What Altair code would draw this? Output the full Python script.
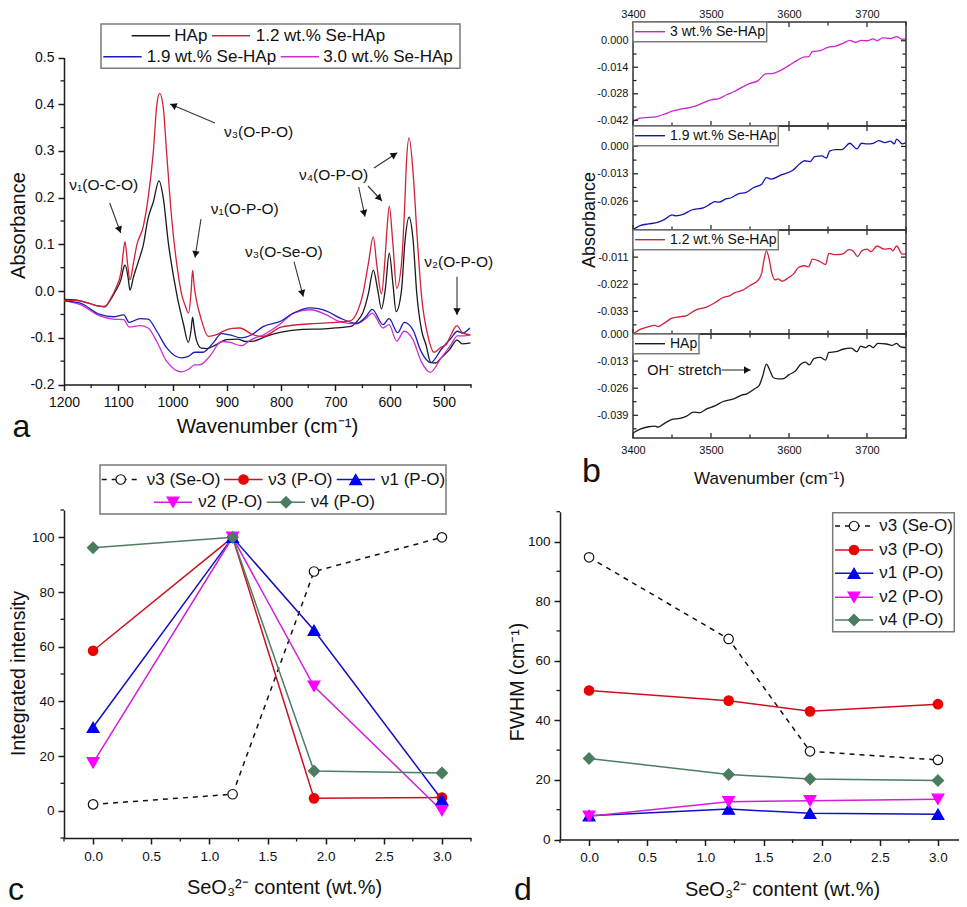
import math
import altair as alt
import pandas as pd

FONT = "Liberation Sans"

# ---------- panel a ----------
A_HAP_X = [1200,1180,1160,1140,1125,1115,1105,1095,1090,1087.6,1082,1078.4,1072,1063,1054,1045,1035.4,1025,1017,1008,992,980,971,966,963,960,956,947,937,920,900,880,865,850,830,800,760,720,700,670,661,648.5,639,630,622,615,608,600.6,594,588,578,572,564,556.7,550,541,533,524,515,505,490,475.6,466,451]
A_HAP_Y = [-0.018,-0.019,-0.024,-0.031,-0.033,-0.02,0.0,0.025,0.05,0.056,0.03,0.002,0.03,0.063,0.098,0.156,0.191,0.236,0.199,0.106,-0.008,-0.07,-0.11,-0.085,-0.056,-0.08,-0.105,-0.122,-0.123,-0.115,-0.104,-0.103,-0.108,-0.107,-0.098,-0.088,-0.082,-0.081,-0.079,-0.075,-0.066,-0.044,-0.005,0.045,0.003,-0.038,0.003,0.081,0.017,-0.044,0.002,0.102,0.158,0.109,-0.004,-0.084,-0.115,-0.153,-0.154,-0.143,-0.126,-0.105,-0.113,-0.111]
A_12_X = [1200,1180,1160,1140,1125,1115,1105,1095,1091,1087.6,1083,1078.4,1072,1066,1054,1045,1035.4,1029,1023.7,1017,1011,1001.6,992,983,977,970.5,966,963,960,956,947,934,920,905,890,876,851,833,800,746,700,673,661,649,639,630,624,615,609,605,600.6,594,587,578,572,569,564,556.7,550,541,529,518,505,496,487,476,466,451]
A_12_Y = [-0.02,-0.02,-0.024,-0.031,-0.034,-0.018,0.005,0.04,0.08,0.106,0.06,0.024,0.06,0.098,0.138,0.199,0.298,0.398,0.423,0.392,0.298,0.156,0.056,-0.008,-0.03,-0.047,-0.005,0.044,0.01,-0.019,-0.061,-0.097,-0.094,-0.085,-0.08,-0.079,-0.094,-0.097,-0.077,-0.07,-0.067,-0.064,-0.048,-0.005,0.06,0.116,0.06,-0.006,0.06,0.13,0.182,0.102,0.006,0.06,0.188,0.274,0.328,0.253,0.13,-0.012,-0.098,-0.131,-0.12,-0.115,-0.094,-0.074,-0.089,-0.094]
A_19_X = [1200,1170,1134,1109,1090,1080,1060,1045,1029,1011,983,971,959,944,925,910,894,873,855,833,800,777,746,716,691,661,643,632,612,601,585,573,557,542,524,505,487,475,466,452]
A_19_Y = [-0.021,-0.026,-0.05,-0.055,-0.051,-0.067,-0.059,-0.06,-0.086,-0.121,-0.143,-0.14,-0.131,-0.131,-0.111,-0.091,-0.094,-0.1,-0.094,-0.076,-0.064,-0.047,-0.036,-0.043,-0.058,-0.069,-0.054,-0.039,-0.072,-0.059,-0.089,-0.067,-0.083,-0.129,-0.153,-0.125,-0.101,-0.086,-0.09,-0.079]
A_30_X = [1200,1170,1134,1109,1090,1080,1060,1045,1029,1011,983,971,959,950,931,910,894,873,855,833,800,777,746,716,691,661,643,632,612,601,587,573,557,542,525,505,487,475,463,452]
A_30_Y = [-0.021,-0.029,-0.053,-0.06,-0.061,-0.077,-0.074,-0.079,-0.108,-0.15,-0.173,-0.168,-0.158,-0.158,-0.139,-0.108,-0.11,-0.117,-0.104,-0.094,-0.069,-0.047,-0.04,-0.051,-0.066,-0.07,-0.058,-0.047,-0.079,-0.072,-0.107,-0.086,-0.104,-0.15,-0.174,-0.143,-0.115,-0.096,-0.096,-0.094]

# ---------- panel b ----------
B_30_X = [3400,3410,3420,3430,3440,3450,3460,3470,3480,3490,3500,3510,3520,3530,3540,3550,3560,3570,3580,3590,3600,3610,3620,3625,3630,3640,3650,3660,3670,3678,3685,3693,3700,3708,3713,3720,3730,3738,3745,3750]
B_30_Y = [-0.0425,-0.0408,-0.0405,-0.04,-0.0388,-0.0372,-0.0362,-0.0355,-0.0345,-0.0328,-0.0312,-0.0305,-0.0285,-0.0268,-0.0245,-0.0225,-0.0212,-0.0175,-0.0172,-0.0155,-0.013,-0.0105,-0.0085,-0.0085,-0.0058,-0.0052,-0.0035,-0.0028,-0.0012,0.0002,-0.0008,0.0002,0.0,0.001,0.0,0.0015,0.0012,0.0022,0.0008,0.001]
B_19_X = [3400,3410,3420,3430,3440,3450,3455,3465,3475,3490,3500,3505,3510,3520,3525,3535,3545,3555,3565,3571,3577,3590,3605,3613,3620,3627,3633,3642,3648,3652,3660,3668,3678,3687,3693,3700,3708,3715,3723,3730,3735,3738,3745,3750]
B_19_Y = [-0.0395,-0.0375,-0.0368,-0.0362,-0.0348,-0.0325,-0.033,-0.0322,-0.0302,-0.0292,-0.0272,-0.0262,-0.0265,-0.0248,-0.0245,-0.0225,-0.0218,-0.0195,-0.018,-0.0148,-0.0155,-0.0135,-0.0113,-0.0085,-0.0068,-0.0072,-0.0048,-0.0045,-0.0055,-0.0022,-0.0015,-0.0015,0.0015,-0.0012,0.0015,0.0012,0.0015,0.0028,0.0018,0.0025,0.0012,0.0035,0.0012,0.0018]
B_12_X = [3400,3410,3420,3428,3432,3440,3450,3460,3468,3480,3495,3505,3515,3525,3530,3540,3550,3560,3565,3568,3571,3574,3578,3582,3586,3591,3600,3606,3612,3620,3625,3630,3638,3647,3651,3660,3668,3677,3682,3688,3693,3700,3705,3713,3722,3730,3733,3738,3745,3750]
B_12_Y = [-0.0422,-0.0402,-0.0392,-0.0387,-0.0392,-0.0378,-0.0358,-0.0352,-0.0348,-0.0325,-0.0312,-0.0295,-0.0275,-0.0265,-0.0255,-0.0245,-0.0225,-0.0205,-0.0175,-0.012,-0.0085,-0.011,-0.0175,-0.0202,-0.0198,-0.0208,-0.0192,-0.0178,-0.0152,-0.0145,-0.015,-0.0118,-0.0125,-0.014,-0.0095,-0.01,-0.0098,-0.008,-0.0085,-0.0108,-0.0085,-0.0078,-0.0088,-0.0065,-0.0078,-0.0075,-0.0085,-0.0065,-0.0098,-0.0098]
B_0_X = [3400,3410,3420,3428,3432,3440,3450,3460,3468,3478,3485,3495,3505,3515,3530,3540,3545,3555,3562,3566,3571,3575,3580,3586,3592,3600,3608,3615,3621,3626,3632,3640,3647,3651,3660,3670,3680,3687,3692,3698,3703,3708,3714,3725,3732,3738,3743,3750]
B_0_Y = [-0.0475,-0.0455,-0.0445,-0.0442,-0.0447,-0.043,-0.041,-0.0405,-0.0395,-0.0375,-0.0378,-0.0358,-0.0345,-0.0325,-0.031,-0.0292,-0.0288,-0.0265,-0.0245,-0.0205,-0.0145,-0.017,-0.021,-0.0215,-0.0215,-0.0195,-0.0178,-0.0145,-0.0135,-0.0148,-0.0118,-0.0112,-0.0125,-0.0088,-0.0085,-0.0072,-0.0068,-0.0085,-0.0058,-0.0065,-0.0055,-0.0065,-0.0045,-0.0048,-0.0055,-0.0045,-0.0062,-0.0065]

# ---------- panels c, d ----------
CONTENT = [0.0, 1.2, 1.9, 3.0]
C_SE = [2.3, 6.0, 87.5, 100.0]
C_V3 = [58.5, 100.0, 4.5, 4.8]
C_V1 = [30.5, 100.0, 66.0, 4.0]
C_V2 = [17.5, 100.0, 45.5, 0.0]
C_V4 = [96.2, 100.0, 14.5, 13.8]
D_SE = [94.7, 67.3, 29.6, 26.7]
D_V3 = [50.0, 46.6, 43.0, 45.4]
D_V1 = [8.0, 10.2, 8.8, 8.5]
D_V2 = [7.8, 12.7, 13.0, 13.5]
D_V4 = [27.2, 21.8, 20.3, 19.8]

SER_NAMES = ["ν3 (Se-O)", "ν3 (P-O)", "ν1 (P-O)", "ν2 (P-O)", "ν4 (P-O)"]
SPEC_NAMES_A = ["HAp", "1.2 wt.% Se-HAp", "1.9 wt.% Se-HAp", "3.0 wt.% Se-HAp"]
SPEC_NAMES_B = ["3 wt.% Se-HAp", "1.9 wt.% Se-HAp", "1.2 wt.% Se-HAp", "HAp"]

BLACK, RED, BLUE, MAG = "#1a1a1a", "#d2203a", "#1c1cb8", "#cc2fd0"
STYLES = [
    dict(line="#111111", dash=[5, 5], fill="#ffffff", stroke="#111111", shape="circle", size=90),
    dict(line="#cc1020", dash=None, fill="#ee0000", stroke="#ee0000", shape="circle", size=90),
    dict(line="#1010c0", dash=None, fill="#0000ee", stroke="#0000ee", shape="triangle-up", size=140),
    dict(line="#d020d8", dash=None, fill="#ff00ff", stroke="#ff00ff", shape="triangle-down", size=140),
    dict(line="#4c7c62", dash=None, fill="#4a7c5f", stroke="#4a7c5f", shape="diamond", size=125),
]

ONE = alt.Data(values=[{"k": 1}])


def text(s, x, y, size, L, T, align="left", angle=None, color="#111111"):
    kw = {"angle": angle} if angle is not None else {}
    return alt.Chart(ONE).mark_text(align=align, baseline="middle", font=FONT, fontSize=size,
                                    color=color, text=s, **kw).encode(
        x=alt.value(x - L), y=alt.value(y - T))


def rule(x1, y1, x2, y2, L, T, color="#111111", width=1.3, dash=None):
    kw = {"strokeDash": dash} if dash else {}
    return alt.Chart(ONE).mark_rule(color=color, strokeWidth=width, **kw).encode(
        x=alt.value(x1 - L), y=alt.value(y1 - T), x2=alt.value(x2 - L), y2=alt.value(y2 - T))


def box(x1, y1, x2, y2, L, T):
    return alt.Chart(ONE).mark_rect(fill="#ffffff", stroke="#7a7a7a", strokeWidth=1.5).encode(
        x=alt.value(x1 - L), y=alt.value(y1 - T), x2=alt.value(x2 - L), y2=alt.value(y2 - T))


def arrow(x1, y1, x2, y2, L, T, color="#333333"):
    ang = math.degrees(math.atan2(x2 - x1, -(y2 - y1))) % 360
    d = math.hypot(x2 - x1, y2 - y1)
    hx = x2 - (x2 - x1) / d * 3.5
    hy = y2 - (y2 - y1) / d * 3.5
    head = alt.Chart(ONE).mark_point(shape="triangle-up", filled=True, opacity=1, size=55, angle=ang,
                                     color="#111111").encode(x=alt.value(hx - L), y=alt.value(hy - T))
    return [rule(x1, y1, x2, y2, L, T, color=color, width=1.1), head]


def marker(st, x, y, L, T):
    return alt.Chart(ONE).mark_point(shape=st["shape"], size=st["size"], filled=True, opacity=1,
                                     fill=st["fill"], stroke=st["stroke"], strokeWidth=1.2).encode(
        x=alt.value(x - L), y=alt.value(y - T))


def hy_labels(fmt):
    return (f"datum.value < 0 ? '-' + format(-datum.value, '{fmt}') : format(datum.value, '{fmt}')")


AX = dict(labelFont=FONT, titleFont=FONT, labelColor="#111111", titleColor="#111111",
          domainColor="#1a1a1a", tickColor="#1a1a1a", domainWidth=1.5, tickWidth=1.5, tickSize=6,
          grid=False, titleFontWeight="normal", minExtent=0)
AXB = {k: v for k, v in AX.items() if k != "tickSize"}


def minor_x(vals, xs, H, axis, length=3.5):
    df = pd.DataFrame({"v": vals})
    return alt.Chart(df).mark_rule(color="#1a1a1a", strokeWidth=1.3).encode(
        x=alt.X("v:Q", scale=xs, axis=axis), y=alt.value(H), y2=alt.value(H + length))


def minor_y(vals, ys, axis, length=3.5):
    df = pd.DataFrame({"v": vals})
    return alt.Chart(df).mark_rule(color="#1a1a1a", strokeWidth=1.3).encode(
        y=alt.Y("v:Q", scale=ys, axis=axis), x=alt.value(0), x2=alt.value(-length))


# ================= PANEL A =================
LA, TA, HA, WA = 64, 22, 362.5, 407
xa = alt.Scale(domain=[1200, 450], nice=False, zero=False)
ya = alt.Scale(domain=[-0.2, 0.5], range=[HA, 35.5], nice=False, zero=False)
xax_a = alt.Axis(values=[1200, 1100, 1000, 900, 800, 700, 600, 500], format="d", title="Wavenumber (cm⁻¹)",
                 labelFontSize=14, titleFontSize=20.5, labelPadding=5, titleX=203, titleY=32, labelFlush=False, **AX)
yax_a = alt.Axis(values=[-0.2, -0.1, 0, 0.1, 0.2, 0.3, 0.4, 0.5], labelExpr=hy_labels(".1f"), title="Absorbance",
                 labelFontSize=14, titleFontSize=20, labelPadding=4, titleX=-36, titleY=203, **AX)


def a_line(xv, yv, color):
    df = pd.DataFrame({"x": xv, "y": yv})
    return alt.Chart(df).mark_line(color=color, strokeWidth=1.3, interpolate="monotone").encode(
        x=alt.X("x:Q", scale=xa, axis=xax_a),
        y=alt.Y("y:Q", scale=ya, axis=yax_a))


a_layers = [
    a_line(A_HAP_X, A_HAP_Y, BLACK),
    a_line(A_30_X, A_30_Y, MAG),
    a_line(A_19_X, A_19_Y, BLUE),
    a_line(A_12_X, A_12_Y, RED),
    minor_x([1150, 1050, 950, 850, 750, 650, 550, 450], xa, HA, xax_a),
    minor_y([-0.15, -0.05, 0.05, 0.15, 0.25, 0.35, 0.45], ya, yax_a),
    box(101, 24, 460, 68.3, LA, TA),
]
for nm, col, x1, x2, xt, yr in [
    (SPEC_NAMES_A[0], BLACK, 131.7, 170, 174.3, 35.7),
    (SPEC_NAMES_A[1], RED, 212, 250, 255.7, 35.7),
    (SPEC_NAMES_A[2], BLUE, 103.3, 141.7, 146.7, 56.7),
    (SPEC_NAMES_A[3], MAG, 280.7, 319, 323.3, 56.7),
]:
    a_layers += [rule(x1, yr, x2, yr, LA, TA, color=col, width=1.4), text(nm, xt, yr, 17, LA, TA)]
for s, x, y in [("ν₁(O-C-O)", 69.3, 185), ("ν₃(O-P-O)", 224, 131.7), ("ν₁(O-P-O)", 210.7, 209.3),
                ("ν₄(O-P-O)", 299, 175), ("ν₃(O-Se-O)", 245, 251.7), ("ν₂(O-P-O)", 424.3, 261.7)]:
    a_layers.append(text(s, x, y, 15.5, LA, TA))
for x1, y1, x2, y2 in [(215, 123, 170, 104), (109.7, 203, 120.7, 233), (201, 219, 195, 257.7),
                       (374, 168, 397.3, 152.7), (368, 186, 382, 201), (358.7, 187, 365, 216.7),
                       (294, 261.7, 303.3, 296.7), (457, 276.7, 457, 315)]:
    a_layers += arrow(x1, y1, x2, y2, LA, TA)
a_layers.append(text("a", 12.5, 427, 32, LA, TA))
panel_a = alt.layer(*a_layers).properties(width=WA, height=HA)

# ================= PANEL B =================
LB, WB, HB = 633, 273, 104
xb = alt.Scale(domain=[3400, 3750], nice=False, zero=False)
BX_MAJ = [3400, 3500, 3600, 3700]
BX_MIN = [3450, 3550, 3650, 3750]


def b_panel(T, xv, yv, color, dom, maj, minr, name, legend_right, top_axis=False, bottom_axis=False, extra=None):
    ys = alt.Scale(domain=dom, nice=False, zero=False)
    df = pd.DataFrame({"x": xv, "y": yv})
    if top_axis:
        xaxis = alt.Axis(orient="top", values=BX_MAJ, format="d", labelFontSize=11, title=None, ticks=False,
                         domain=False, labelPadding=3, labelFlush=False, **AXB)
    elif bottom_axis:
        xaxis = alt.Axis(values=BX_MAJ, format="d", labelFontSize=11, title="Wavenumber (cm⁻¹)", titleFontSize=17,
                         ticks=False, domain=False, labelPadding=6, titleX=136, titleY=32, labelFlush=False, **AXB)
    else:
        xaxis = None
    yaxis = alt.Axis(values=maj, labelExpr=hy_labels(".3f"), labelFontSize=11, title=None, ticks=False, domain=False,
                     labelPadding=5, labelFlush=False, **AXB)
    line = alt.Chart(df).mark_line(color=color, strokeWidth=1.3, interpolate="monotone").encode(
        x=alt.X("x:Q", scale=xb, axis=xaxis), y=alt.Y("y:Q", scale=ys, axis=yaxis))
    rc = dict(color="#1a1a1a", strokeWidth=1.2)
    layers = [line]
    for vals, ln in [(BX_MAJ, 5), (BX_MIN, 3.5)]:
        d = pd.DataFrame({"v": vals})
        layers.append(alt.Chart(d).mark_rule(**rc).encode(x=alt.X("v:Q", scale=xb, axis=xaxis), y=alt.value(0), y2=alt.value(ln)))
        layers.append(alt.Chart(d).mark_rule(**rc).encode(x=alt.X("v:Q", scale=xb, axis=xaxis), y=alt.value(HB), y2=alt.value(HB - ln)))
    for vals, ln in [(maj, 5), (minr, 3.5)]:
        d = pd.DataFrame({"v": vals})
        layers.append(alt.Chart(d).mark_rule(**rc).encode(y=alt.Y("v:Q", scale=ys, axis=yaxis), x=alt.value(0), x2=alt.value(ln)))
        layers.append(alt.Chart(d).mark_rule(**rc).encode(y=alt.Y("v:Q", scale=ys, axis=yaxis), x=alt.value(WB), x2=alt.value(WB - ln)))
    layers.append(alt.Chart(ONE).mark_rect(fillOpacity=0, stroke="#333333", strokeWidth=1.5).encode(
        x=alt.value(0), x2=alt.value(WB), y=alt.value(0), y2=alt.value(HB)))
    layers.append(box(LB, T, legend_right, T + 19.7, LB, T))
    layers.append(rule(LB + 2, T + 9.7, 665, T + 9.7, LB, T, color=color, width=1.4))
    layers.append(text(name, 670, T + 9.7, 14, LB, T))
    if extra:
        layers += extra
    return alt.layer(*layers).properties(width=WB, height=HB)


T1, T2, T3, T4 = 22, 126, 230, 334
b1 = b_panel(T1, B_30_X, B_30_Y, "#cf22cf", [-0.045, 0.0099], [0, -0.014, -0.028, -0.042],
             [-0.007, -0.021, -0.035], SPEC_NAMES_B[0], 766.7, top_axis=True)
b2 = b_panel(T2, B_19_X, B_19_Y, "#1414b0", [-0.0397, 0.0097], [0, -0.013, -0.026],
             [-0.0065, -0.0195, -0.0325], SPEC_NAMES_B[1], 778.3,
             extra=[text("Absorbance", 590, 220, 18, LB, T2, align="center", angle=270)])
b3 = b_panel(T3, B_12_X, B_12_Y, "#d2203a", [-0.0422, 0.0], [-0.011, -0.022, -0.033],
             [-0.0055, -0.0165, -0.0275, -0.0385], SPEC_NAMES_B[2], 778.3)
b4 = b_panel(T4, B_0_X, B_0_Y, BLACK, [-0.0499, 0.0], [0, -0.013, -0.026, -0.039],
             [-0.0065, -0.0195, -0.0325, -0.0455], SPEC_NAMES_B[3], 699,
             bottom_axis=True,
             extra=[text("OH⁻ stretch", 647.3, 371, 14.5, LB, T4)] + arrow(721.7, 370, 750.7, 370, LB, T4)
                   + [text("b", 582, 472, 34, LB, T4)])
panel_b = alt.vconcat(b1, b2, b3, b4, spacing=0, bounds="flush")


# ================= PANELS C, D =================
def series_layers(values, xs, ys, xaxis, yaxis):
    out = []
    for i in [0, 1, 2, 3, 4]:
        st = STYLES[i]
        df = pd.DataFrame({"x": CONTENT, "y": values[i]})
        kw = {"strokeDash": st["dash"]} if st["dash"] else {}
        out.append(alt.Chart(df).mark_line(color=st["line"], strokeWidth=1.5, **kw).encode(
            x=alt.X("x:Q", scale=xs, axis=xaxis),
            y=alt.Y("y:Q", scale=ys, axis=yaxis)))
    for i in [0, 1, 2, 3, 4]:
        st = STYLES[i]
        df = pd.DataFrame({"x": CONTENT, "y": values[i]})
        out.append(alt.Chart(df).mark_point(shape=st["shape"], size=st["size"], filled=True, opacity=1,
                                            fill=st["fill"], stroke=st["stroke"], strokeWidth=1.2).encode(
            x=alt.X("x:Q", scale=xs, axis=xaxis), y=alt.Y("y:Q", scale=ys, axis=yaxis)))
    return out


XT_TITLE = "SeO₃²⁻ content (wt.%)"
CX_MAJ = [0, 0.5, 1, 1.5, 2, 2.5, 3]
CX_MIN = [-0.25, 0.25, 0.75, 1.25, 1.75, 2.25, 2.75, 3.25]
LC, TC, WC, HC = 64, 510, 407, 328
xc = alt.Scale(domain=[-0.25, 3.25], nice=False, zero=False)
yc = alt.Scale(domain=[-10, 110], nice=False, zero=False)
xax_c = alt.Axis(values=CX_MAJ, format=".1f", title=XT_TITLE, labelFontSize=13.5, titleFontSize=20, labelPadding=5,
                 titleX=220, titleY=39, labelFlush=False, **AX)
yax_c = alt.Axis(values=[0, 20, 40, 60, 80, 100], format="d", title="Integrated intensity", labelFontSize=13.5,
                 titleFontSize=19.5, labelPadding=4, titleX=-36, titleY=163, **AX)
c_layers = series_layers([C_SE, C_V3, C_V1, C_V2, C_V4], xc, yc, xax_c, yax_c)
c_layers += [minor_x(CX_MIN, xc, HC, xax_c), minor_y([-10, 10, 30, 50, 70, 90, 110], yc, yax_c)]
c_layers.append(box(100, 465, 446, 514, LC, TC))
for i, x1, x2, xm, xt, yr in [(0, 101.7, 138, 120.7, 146.7, 479.5), (1, 224, 262.7, 243.5, 268.3, 479.5),
                              (2, 336.7, 375, 355.7, 381, 479.5), (3, 154, 192, 173, 198.3, 502.3),
                              (4, 266.7, 305, 286, 310.7, 502.3)]:
    st = STYLES[i]
    c_layers += [rule(x1, yr, x2, yr, LC, TC, color=st["line"], width=1.4, dash=st["dash"]),
                 marker(st, xm, yr, LC, TC), text(SER_NAMES[i], xt, yr, 17, LC, TC)]
c_layers.append(text("c", 8, 890, 32, LC, TC))
panel_c = alt.layer(*c_layers).properties(width=WC, height=HC)

# the page leaves 8px to the right of the chart, so the last few px of panel d's axis are cut
LD, TD, WD, HD = 560, 510, 399, 329.5
xd = alt.Scale(domain=[-0.25, 3.181], nice=False, zero=False)
yd = alt.Scale(domain=[0, 110], range=[HD, 1.7], nice=False, zero=False)
xax_d = alt.Axis(values=CX_MAJ, format=".1f", title=XT_TITLE, labelFontSize=13.5, titleFontSize=20, labelPadding=5,
                 titleX=222, titleY=40, labelFlush=False, **AX)
yax_d = alt.Axis(values=[0, 20, 40, 60, 80, 100], format="d", title="FWHM (cm⁻¹)", labelFontSize=13.5,
                 titleFontSize=19.5, labelPadding=4, titleX=-33, titleY=171.5, **AX)
d_layers = series_layers([D_SE, D_V3, D_V1, D_V2, D_V4], xd, yd, xax_d, yax_d)
d_layers += [minor_x(CX_MIN[:-1], xd, HD, xax_d), minor_y([10, 30, 50, 70, 90, 110], yd, yax_d)]
d_layers.append(box(832.7, 512.7, 954.3, 631.7, LD, TD))
for i, yr in zip(range(5), [526, 550, 573.3, 597.3, 620]):
    st = STYLES[i]
    d_layers += [rule(835, yr, 873.3, yr, LD, TD, color=st["line"], width=1.4, dash=st["dash"]),
                 marker(st, 854, yr, LD, TD), text(SER_NAMES[i], 879.3, yr, 17, LD, TD)]
d_layers.append(text("d", 514, 890, 32, LD, TD))
panel_d = alt.layer(*d_layers).properties(width=WD, height=HD)

top = alt.hconcat(panel_a, panel_b, spacing=162, bounds="flush")
bottom = alt.hconcat(panel_c, panel_d, spacing=89, bounds="flush")
chart = alt.vconcat(top, bottom, spacing=488, bounds="flush").properties(
    padding=0, background="#ffffff"
).configure_view(stroke=None)

chart.save("out.html", embed_options={"renderer": "svg", "actions": False})
